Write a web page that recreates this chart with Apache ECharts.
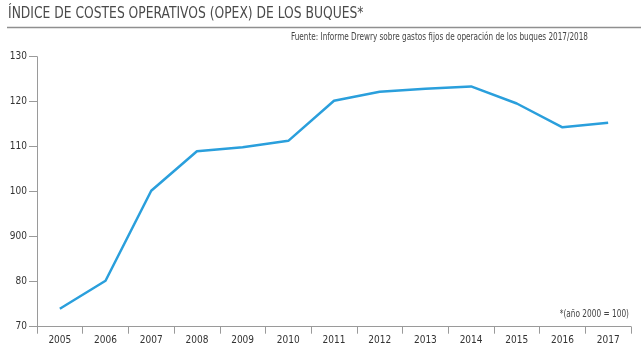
<!DOCTYPE html>
<html><head><meta charset="utf-8">
<script src="https://cdn.jsdelivr.net/npm/echarts@6/dist/echarts.min.js"></script>
<style>html,body{margin:0;padding:0;background:#fff}#c{width:641px;height:362px}</style>
</head><body><div id="c"></div>
<script>
const years = ['2005','2006','2007','2008','2009','2010','2011','2012','2013','2014','2015','2016','2017'];
const opexIndex = [74.0, 80.2, 100.2, 109.0, 109.9, 111.3, 120.2, 122.2, 122.9, 123.4, 119.6, 114.3, 115.3];
const yTickValues = [70, 80, 90, 100, 110, 120, 130];
const yTickLabels = ['70', '80', '900', '100', '110', '120', '130'];
const titleText = 'ÍNDICE DE COSTES OPERATIVOS (OPEX) DE LOS BUQUES*';
const sourceText = 'Fuente: Informe Drewry sobre gastos fijos de operación de los buques 2017/2018';
const noteText = '*(año 2000 = 100)';

const FONT = '"DejaVu Sans Condensed", "Liberation Sans", sans-serif';
const chart = echarts.init(document.getElementById('c'), null, {renderer: 'canvas'});
chart.setOption({
  animation: false,
  backgroundColor: '#fff',
  graphic: [
    {type: 'text', x: 8, y: 14, scaleX: 0.83,
     style: {text: titleText, fontFamily: FONT, fontSize: 16.5, fill: '#4a4a4a', textAlign: 'left', textVerticalAlign: 'middle'}},
    {type: 'line', shape: {x1: 7, y1: 27.5, x2: 641, y2: 27.5}, style: {stroke: '#8f8f8f', lineWidth: 1.5}},
    {type: 'text', x: 588, y: 37, scaleX: 0.75,
     style: {text: sourceText, fontFamily: FONT, fontSize: 10.8, fill: '#444', textAlign: 'right', textVerticalAlign: 'middle'}},
    {type: 'text', x: 629, y: 314, scaleX: 0.76,
     style: {text: noteText, fontFamily: FONT, fontSize: 10.8, fill: '#444', textAlign: 'right', textVerticalAlign: 'middle'}}
  ],
  grid: {left: 37, right: 10, top: 56.7, bottom: 362 - 326.7, containLabel: false},
  xAxis: {
    type: 'category', data: years, boundaryGap: true,
    axisLine: {lineStyle: {color: '#9a9a9a', width: 1}},
    axisTick: {show: true, length: 7, alignWithLabel: false, lineStyle: {color: '#9a9a9a'}},
    axisLabel: {fontFamily: FONT, fontSize: 10, color: '#333', margin: 9}
  },
  yAxis: {
    type: 'value', min: 70, max: 130, interval: 10,
    axisLine: {show: true, lineStyle: {color: '#9a9a9a', width: 1}},
    axisTick: {show: true, length: 8, lineStyle: {color: '#9a9a9a'}},
    splitLine: {show: false},
    axisLabel: {fontFamily: FONT, fontSize: 10, color: '#333', margin: 10,
      formatter: v => { const i = yTickValues.indexOf(v); return i >= 0 ? yTickLabels[i] : String(v); }}
  },
  series: [{
    type: 'line', data: opexIndex, symbol: 'none', smooth: false,
    lineStyle: {color: '#2a9fdc', width: 2.5}
  }]
});
</script></body></html>
